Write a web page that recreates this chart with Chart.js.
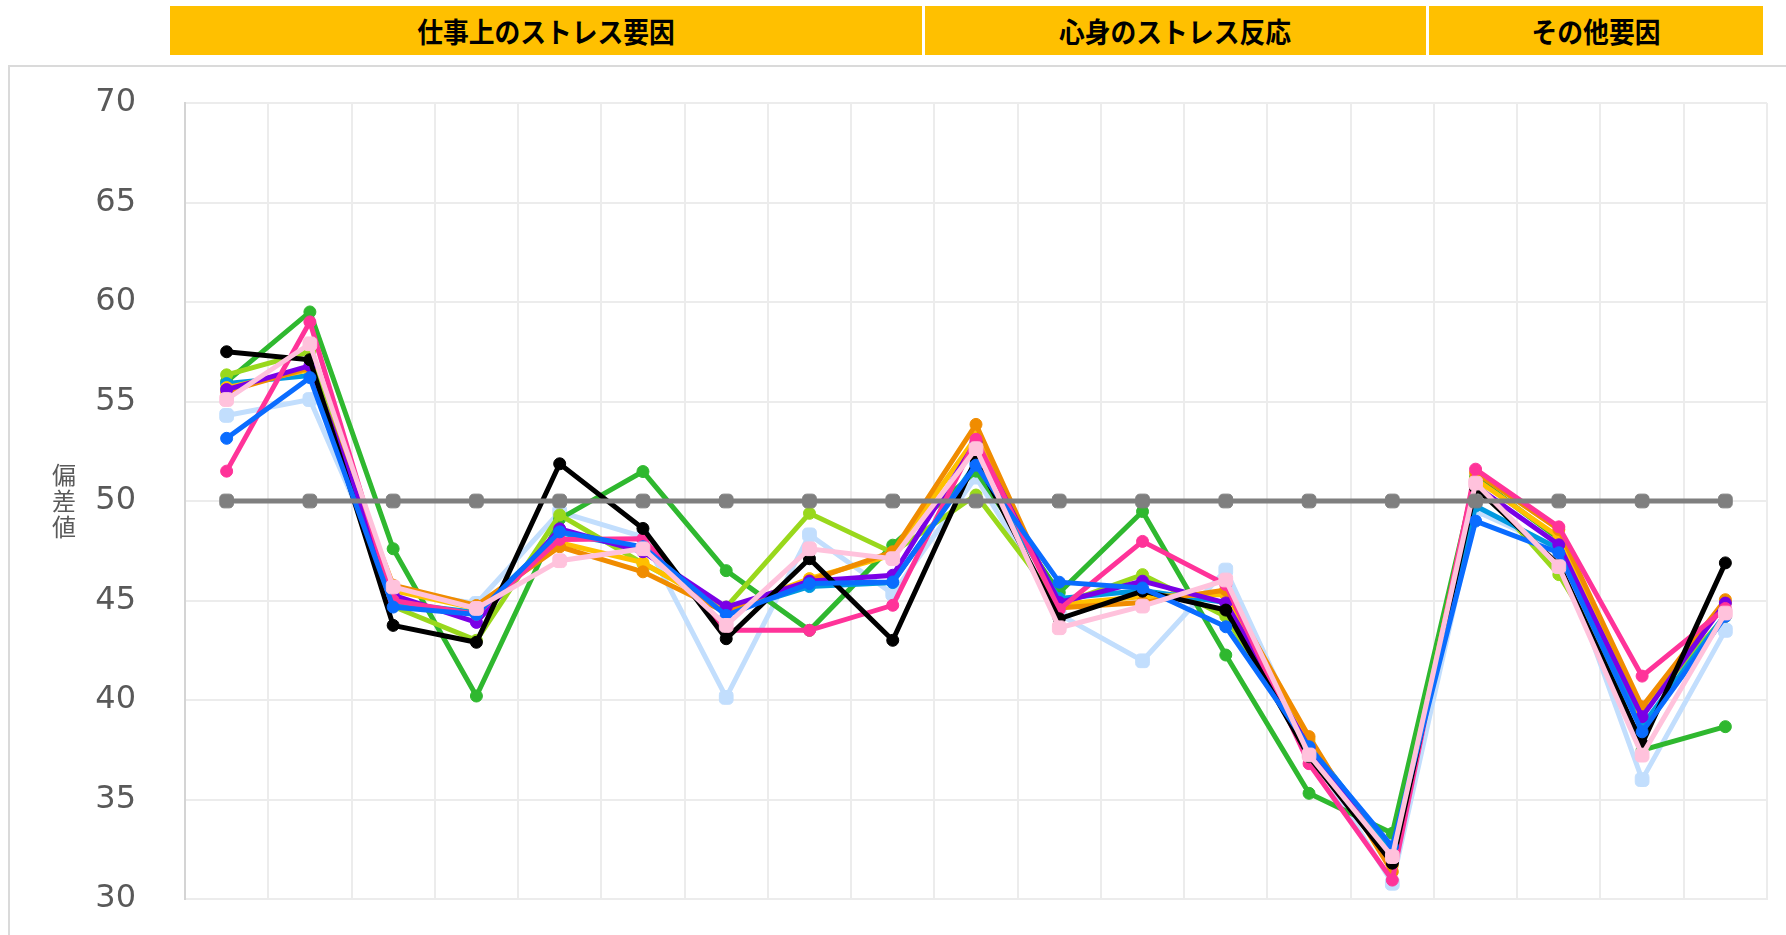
<!DOCTYPE html>
<html lang="ja">
<head>
<meta charset="utf-8">
<title>ストレスチェック 偏差値プロフィール</title>
<script src="https://cdn.jsdelivr.net/npm/chart.js@4.4.1/dist/chart.umd.min.js"></script>
<style>
  html, body { margin: 0; padding: 0; background: #ffffff; }
  body { width: 1786px; height: 935px; position: relative; overflow: hidden; }
  #groups {
    position: absolute; left: 170px; top: 6px; width: 1593px; height: 49px;
    display: flex; gap: 3px;
  }
  #groups div {
    background: #ffc000; color: #000;
    display: flex; align-items: center; justify-content: center;
    font-family: "Noto Sans CJK JP", sans-serif; font-weight: 700; font-size: 28px;
  }
  #groups span { display: inline-block; transform: scaleX(0.92); white-space: nowrap; }
  #frame {
    position: absolute; left: 8px; top: 65px; width: 1820px; height: 920px;
    border-left: 2px solid #dadada; border-top: 2px solid #dadada;
  }
  #chart { position: absolute; left: 0; top: 0; }
</style>
</head>
<body>
<div id="groups"></div>
<div id="frame"></div>
<canvas id="chart" width="1786" height="935" style="width:1786px;height:935px"></canvas>
<script>
// scale groups shown in the header band
const groupNames = ['仕事上のストレス要因', '心身のストレス反応', 'その他要因'];
const groupSizes = [9, 6, 4];

// scales (x categories)
const categories = [
  '心理的な仕事の負担（量）', '心理的な仕事の負担（質）', '自覚的な身体的負担度',
  '職場の対人関係でのストレス', '職場環境によるストレス', '仕事のコントロール度',
  '技能の活用度', '仕事の適性度', '働きがい',
  '活気', 'イライラ感', '疲労感', '不安感', '抑うつ感', '身体愁訴',
  '上司からのサポート', '同僚からのサポート', '家族・友人からのサポート', '仕事や生活の満足度'
];

// y axis ticks
const yTicks = [30, 35, 40, 45, 50, 55, 60, 65, 70];

// deviation scores per group
const groupA = [57.5, 57.1, 43.75, 42.9, 51.87, 48.62, 43.08, 47.1, 43.0, 52.1, 44.08, 45.47, 44.52, 37.15, 31.8, 50.67, 46.8, 37.8, 46.89];
const groupB = [56.0, 59.5, 47.6, 40.2, 49.1, 51.48, 46.5, 43.5, 47.78, 51.5, 45.4, 49.47, 42.26, 35.31, 33.3, 51.2, 48.1, 37.48, 38.66];
const groupC = [56.34, 57.5, 44.7, 43.0, 49.3, 46.86, 44.67, 49.38, 47.4, 50.3, 44.8, 46.3, 44.2, 37.5, 32.0, 51.0, 46.3, 39.5, 44.2];
const groupD = [51.5, 59.0, 45.0, 44.3, 48.07, 48.1, 43.5, 43.5, 44.76, 53.1, 44.55, 47.97, 45.8, 36.8, 30.95, 51.6, 48.7, 41.2, 44.6];
const groupE = [53.15, 56.2, 44.67, 44.3, 48.45, 47.7, 44.25, 45.85, 45.93, 51.8, 45.92, 45.63, 43.68, 37.65, 32.63, 48.99, 47.4, 38.4, 44.2];
const groupF = [54.3, 55.1, 45.5, 44.85, 49.46, 48.2, 40.13, 48.3, 45.34, 51.2, 44.3, 41.97, 46.53, 37.5, 30.79, 49.5, 47.6, 36.0, 43.5];
const groupG = [55.5, 56.7, 45.77, 44.75, 47.7, 46.44, 44.4, 46.0, 47.45, 53.85, 44.63, 44.9, 45.53, 38.16, 31.37, 51.43, 48.57, 39.66, 45.04];
const groupH = [55.6, 56.8, 45.27, 43.9, 48.6, 47.45, 44.67, 45.97, 46.27, 52.97, 44.9, 45.97, 44.88, 37.6, 31.96, 50.76, 47.8, 39.16, 44.87];
const groupI = [55.1, 57.9, 45.68, 44.6, 47.0, 47.6, 43.75, 47.6, 47.1, 52.63, 43.63, 44.72, 46.03, 37.24, 32.13, 50.9, 46.7, 37.23, 44.37];
const groupJ = [55.9, 56.3, 44.9, 44.4, 48.4, 47.6, 44.4, 45.7, 45.9, 51.9, 45.1, 45.5, 44.9, 37.8, 32.4, 49.75, 47.6, 38.7, 44.3];
const groupK = [55.7, 56.6, 45.5, 44.6, 47.9, 46.9, 44.5, 46.1, 47.3, 53.2, 44.8, 45.2, 45.3, 38.0, 31.7, 51.1, 48.2, 39.5, 44.9];
const baseline = [50, 50, 50, 50, 50, 50, 50, 50, 50, 50, 50, 50, 50, 50, 50, 50, 50, 50, 50];

// header band
const groupsEl = document.getElementById('groups');
groupNames.forEach((name, i) => {
  const d = document.createElement('div');
  d.style.flex = groupSizes[i] + ' 1 0';
  const s = document.createElement('span');
  s.textContent = name;
  d.appendChild(s);
  groupsEl.appendChild(d);
});

function series(label, data, color, style, order) {
  const square = style === 'square';
  return {
    label, data, order,
    borderColor: color, backgroundColor: color,
    pointBackgroundColor: color, pointBorderColor: color,
    borderWidth: 5, tension: 0,
    pointStyle: square ? 'rectRounded' : 'circle',
    pointRadius: square ? 8 : 6, pointBorderWidth: 1,
    fill: false
  };
}

// stacked vertical axis title
const yTitle = {
  id: 'yTitle',
  afterDraw(chart) {
    const { ctx, chartArea } = chart;
    const chars = ['偏', '差', '値'];
    const lh = 26;
    const cy = (chartArea.top + chartArea.bottom) / 2;
    ctx.save();
    ctx.fillStyle = '#5a5a5a';
    ctx.font = '24px "Noto Sans CJK JP", sans-serif';
    ctx.textAlign = 'center';
    ctx.textBaseline = 'middle';
    chars.forEach((c, i) => ctx.fillText(c, 64, cy + (i - 1) * lh));
    ctx.restore();
  }
};

new Chart(document.getElementById('chart'), {
  type: 'line',
  data: {
    labels: categories,
    datasets: [
      series('全国平均', baseline, '#7f7f7f', 'square', 1),
      series('I', groupI, '#ffc2dc', 'square', 2),
      series('E', groupE, '#0a6cff', 'circle', 3),
      series('A', groupA, '#000000', 'circle', 4),
      series('D', groupD, '#ff3399', 'circle', 5),
      series('H', groupH, '#7a00e6', 'circle', 6),
      series('G', groupG, '#f08c00', 'circle', 7),
      series('K', groupK, '#ffc000', 'circle', 8),
      series('J', groupJ, '#0099e0', 'circle', 9),
      series('C', groupC, '#99d81c', 'circle', 10),
      series('B', groupB, '#2fb82f', 'circle', 11),
      series('F', groupF, '#c2defd', 'square', 12)
    ]
  },
  options: {
    responsive: false,
    animation: false,
    events: [],
    layout: { padding: { top: 103, right: 19, bottom: 36, left: 0 } },
    plugins: { legend: { display: false }, tooltip: { enabled: false } },
    scales: {
      x: {
        type: 'category',
        offset: true,
        afterFit(scale) { scale.height = 0; },
        grid: { offset: true, color: '#ececec', lineWidth: 2, drawTicks: false },
        border: { color: '#ececec', width: 2 },
        ticks: { display: false }
      },
      y: {
        min: 30, max: 70,
        afterBuildTicks(scale) { scale.ticks = yTicks.map(v => ({ value: v })); },
        afterFit(scale) {
          scale.width = 185;
          scale.paddingTop = 0;
          scale.paddingBottom = 0;
        },
        grid: { color: '#ececec', lineWidth: 2, drawTicks: false },
        border: { color: '#d4d4d4', width: 2 },
        ticks: {
          color: '#595959', padding: 49,
          font: { family: '"DejaVu Sans", sans-serif', size: 32 }
        }
      }
    }
  },
  plugins: [yTitle]
});
</script>
</body>
</html>
